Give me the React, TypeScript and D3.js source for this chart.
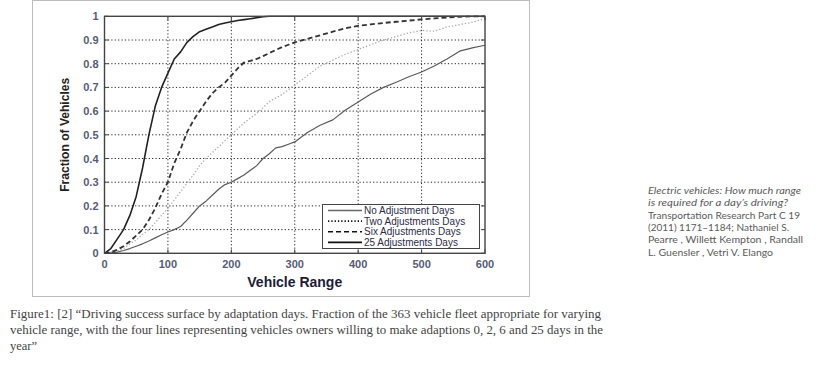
import * as d3 from 'd3'

// vehicle range grid (miles) shared by all four curves
const ranges = [
  0, 10, 20, 30, 40, 50, 60, 70, 80, 90, 100, 110, 120, 130, 140, 150, 160, 170, 180, 190,
  200, 210, 220, 230, 240, 250, 260, 270, 280, 290, 300,
  320, 340, 360, 380, 400, 420, 440, 460, 480, 500, 520, 540, 560, 580, 600,
]

const noAdjustment = [
  0, 0.002, 0.005, 0.012, 0.02, 0.03, 0.04, 0.052, 0.065, 0.078, 0.09, 0.1, 0.113, 0.14, 0.17, 0.2, 0.22, 0.245, 0.27, 0.29,
  0.3, 0.315, 0.33, 0.35, 0.37, 0.4, 0.42, 0.445, 0.45, 0.46, 0.47,
  0.51, 0.54, 0.563, 0.605, 0.638, 0.672, 0.7, 0.722, 0.745, 0.765, 0.79, 0.82, 0.853, 0.867, 0.878,
]

const twoAdjustments = [
  0, 0.005, 0.01, 0.02, 0.04, 0.055, 0.08, 0.1, 0.13, 0.16, 0.19, 0.225, 0.26, 0.295, 0.33, 0.37, 0.4, 0.425, 0.45, 0.475,
  0.5, 0.525, 0.55, 0.57, 0.59, 0.615, 0.64, 0.655, 0.67, 0.69, 0.71,
  0.75, 0.79, 0.815, 0.84, 0.86, 0.88, 0.9, 0.915, 0.93, 0.94, 0.937, 0.955, 0.965, 0.975, 0.99,
]

const sixAdjustments = [
  0, 0.005, 0.015, 0.03, 0.05, 0.075, 0.1, 0.14, 0.19, 0.25, 0.3, 0.38, 0.44, 0.51, 0.56, 0.6, 0.64, 0.675, 0.7, 0.72,
  0.75, 0.78, 0.805, 0.812, 0.82, 0.832, 0.845, 0.858, 0.87, 0.88, 0.89,
  0.905, 0.92, 0.935, 0.95, 0.96, 0.966, 0.972, 0.977, 0.982, 0.987, 0.991, 0.995, 0.998, 1, 1,
]

const twentyFiveAdjustments = [
  0, 0.02, 0.06, 0.1, 0.16, 0.24, 0.36, 0.5, 0.62, 0.7, 0.76, 0.82, 0.85, 0.89, 0.915, 0.935, 0.945, 0.955, 0.965, 0.972,
  0.977, 0.982, 0.986, 0.99, 0.994, 0.998, 1, 1, 1, 1, 1,
  1, 1, 1, 1, 1, 1, 1, 1, 1, 1, 1, 1, 1, 1, 1,
]

const seriesNames = ['No Adjustment Days', 'Two Adjustments Days', 'Six Adjustments Days', '25 Adjustments Days']
const xTicks = [0, 100, 200, 300, 400, 500, 600]
const yTicks = [0, 0.1, 0.2, 0.3, 0.4, 0.5, 0.6, 0.7, 0.8, 0.9, 1]

const captionLines = [
  'Figure1: [2] \u201CDriving success surface by adaptation days. Fraction of the 363 vehicle fleet appropriate for varying',
  'vehicle range, with the four lines representing vehicles owners willing to make adaptions 0, 2, 6 and 25 days in the',
  'year\u201D',
]

const citationLines = [
  { text: 'Electric vehicles: How much range', italic: true, len: 153 },
  { text: 'is required for a day\u2019s driving?', italic: true, len: 140 },
  { text: 'Transportation Research Part C 19', italic: false, len: 152 },
  { text: '(2011) 1171\u20131184;  Nathaniel S.', italic: false, len: 141 },
  { text: 'Pearre , Willett Kempton , Randall', italic: false, len: 155 },
  { text: 'L. Guensler , Vetri V. Elango', italic: false, len: 125 },
]

const W = 820
const H = 385

const left = 104.5
const right = 485
const top = 16.3
const bottom = 253.3

const styles = [
  { stroke: '#5a5a5a', width: 1.2, dash: undefined },
  { stroke: '#a8a8a8', width: 1.3, dash: '1.3,2' },
  { stroke: '#333', width: 1.8, dash: '5,3' },
  { stroke: '#222', width: 1.6, dash: undefined },
]
const legendStyles = [
  { stroke: '#666', width: 1.4, dash: undefined },
  { stroke: '#111', width: 1.6, dash: '1.3,2' },
  { stroke: '#111', width: 1.6, dash: '5,3' },
  { stroke: '#111', width: 1.8, dash: undefined },
]

export default function App() {
  const x = d3.scaleLinear().domain([0, 600]).range([left, right])
  const y = d3.scaleLinear().domain([0, 1]).range([bottom, top])

  const allSeries = [noAdjustment, twoAdjustments, sixAdjustments, twentyFiveAdjustments]
  const line = d3.line<number>()
    .x((_, i) => x(ranges[i]))
    .y(d => y(d))

  const tickColor = '#555b78'
  const tickFont = 'Arial, "Liberation Sans", sans-serif'

  return (
    <svg width={W} height={H} style={{ position: 'absolute', left: 0, top: 0, background: '#fff' }}>
      <defs>
        <clipPath id="plot">
          <rect x={left} y={top - 1} width={right - left} height={bottom - top + 2} />
        </clipPath>
      </defs>

      {/* figure frame */}
      <rect x={32.5} y={0.5} width={497} height={296} fill="#fff" stroke="#bdbdbd" />

      {/* grid */}
      {xTicks.slice(1, -1).map(t => (
        <line key={'gx' + t} x1={x(t)} x2={x(t)} y1={top} y2={bottom}
          stroke="#222" strokeWidth={1} strokeDasharray="1.2,2.2" />
      ))}
      {yTicks.slice(1, -1).map(t => (
        <line key={'gy' + t} x1={left} x2={right} y1={y(t)} y2={y(t)}
          stroke="#222" strokeWidth={1} strokeDasharray="1.2,2.2" />
      ))}

      {/* curves */}
      <g clipPath="url(#plot)">
        {allSeries.map((s, i) => (
          <path key={i} d={line(s) || ''} fill="none" stroke={styles[i].stroke}
            strokeWidth={styles[i].width} strokeDasharray={styles[i].dash}
            strokeLinejoin="round" />
        ))}
      </g>

      {/* ticks, inward on all sides */}
      {xTicks.map(t => (
        <g key={'tx' + t}>
          <line x1={x(t)} x2={x(t)} y1={bottom} y2={bottom - 4} stroke="#444" />
          <line x1={x(t)} x2={x(t)} y1={top} y2={top + 4} stroke="#444" />
        </g>
      ))}
      {yTicks.map(t => (
        <g key={'ty' + t}>
          <line x1={left} x2={left + 4} y1={y(t)} y2={y(t)} stroke="#444" />
          <line x1={right} x2={right - 4} y1={y(t)} y2={y(t)} stroke="#444" />
        </g>
      ))}

      {/* plot box */}
      <rect x={left} y={top} width={right - left} height={bottom - top}
        fill="none" stroke="#444" strokeWidth={1.4} />

      {/* tick labels */}
      {yTicks.map(t => (
        <text key={'ly' + t} x={left - 6} y={y(t) + 4} textAnchor="end"
          fontFamily={tickFont} fontWeight="bold" fontSize={11} fill={tickColor}>
          {d3.format('~g')(t)}
        </text>
      ))}
      {xTicks.map(t => (
        <text key={'lx' + t} x={x(t)} y={bottom + 15} textAnchor="middle"
          fontFamily={tickFont} fontWeight="bold" fontSize={11} fill={tickColor}>
          {t}
        </text>
      ))}

      {/* axis titles */}
      <text transform={`translate(69,${(top + bottom) / 2}) rotate(-90)`} textAnchor="middle"
        fontFamily={tickFont} fontWeight="bold" fontSize={12} fill="#222"
        textLength={114} lengthAdjust="spacingAndGlyphs">
        Fraction of Vehicles
      </text>
      <text x={(left + right) / 2} y={287} textAnchor="middle"
        fontFamily={tickFont} fontWeight="bold" fontSize={14} fill="#1c1c3a">
        Vehicle Range
      </text>

      {/* legend */}
      <rect x={322.5} y={204.5} width={157} height={44} fill="#fff" stroke="#444" strokeWidth={1} />
      {seriesNames.map((name, i) => {
        const ly = 210.5 + i * 10.6
        return (
          <g key={name}>
            <line x1={328} x2={362} y1={ly} y2={ly} stroke={legendStyles[i].stroke}
              strokeWidth={legendStyles[i].width} strokeDasharray={legendStyles[i].dash} />
            <text x={364} y={ly + 3.5} fontFamily={tickFont} fontSize={10} fill="#2c2c48">
              {name}
            </text>
          </g>
        )
      })}

      {/* caption */}
      {captionLines.map((c, i) => (
        <text key={i} x={10} y={318 + i * 16} fontFamily='"Liberation Serif", "Times New Roman", serif'
          fontSize={12.5} fill="#444"
          textLength={i < 2 ? (i === 0 ? 591 : 593) : undefined}
          lengthAdjust="spacingAndGlyphs">
          {c}
        </text>
      ))}

      {/* citation */}
      {citationLines.map((c, i) => (
        <text key={i} x={648} y={194 + i * 12.3} fontFamily='Lato, "Noto Sans", sans-serif'
          fontSize={9.5} fontStyle={c.italic ? 'italic' : 'normal'} fill="#5a5a5a"
          textLength={c.len} lengthAdjust="spacingAndGlyphs">
          {c.text}
        </text>
      ))}
    </svg>
  )
}
